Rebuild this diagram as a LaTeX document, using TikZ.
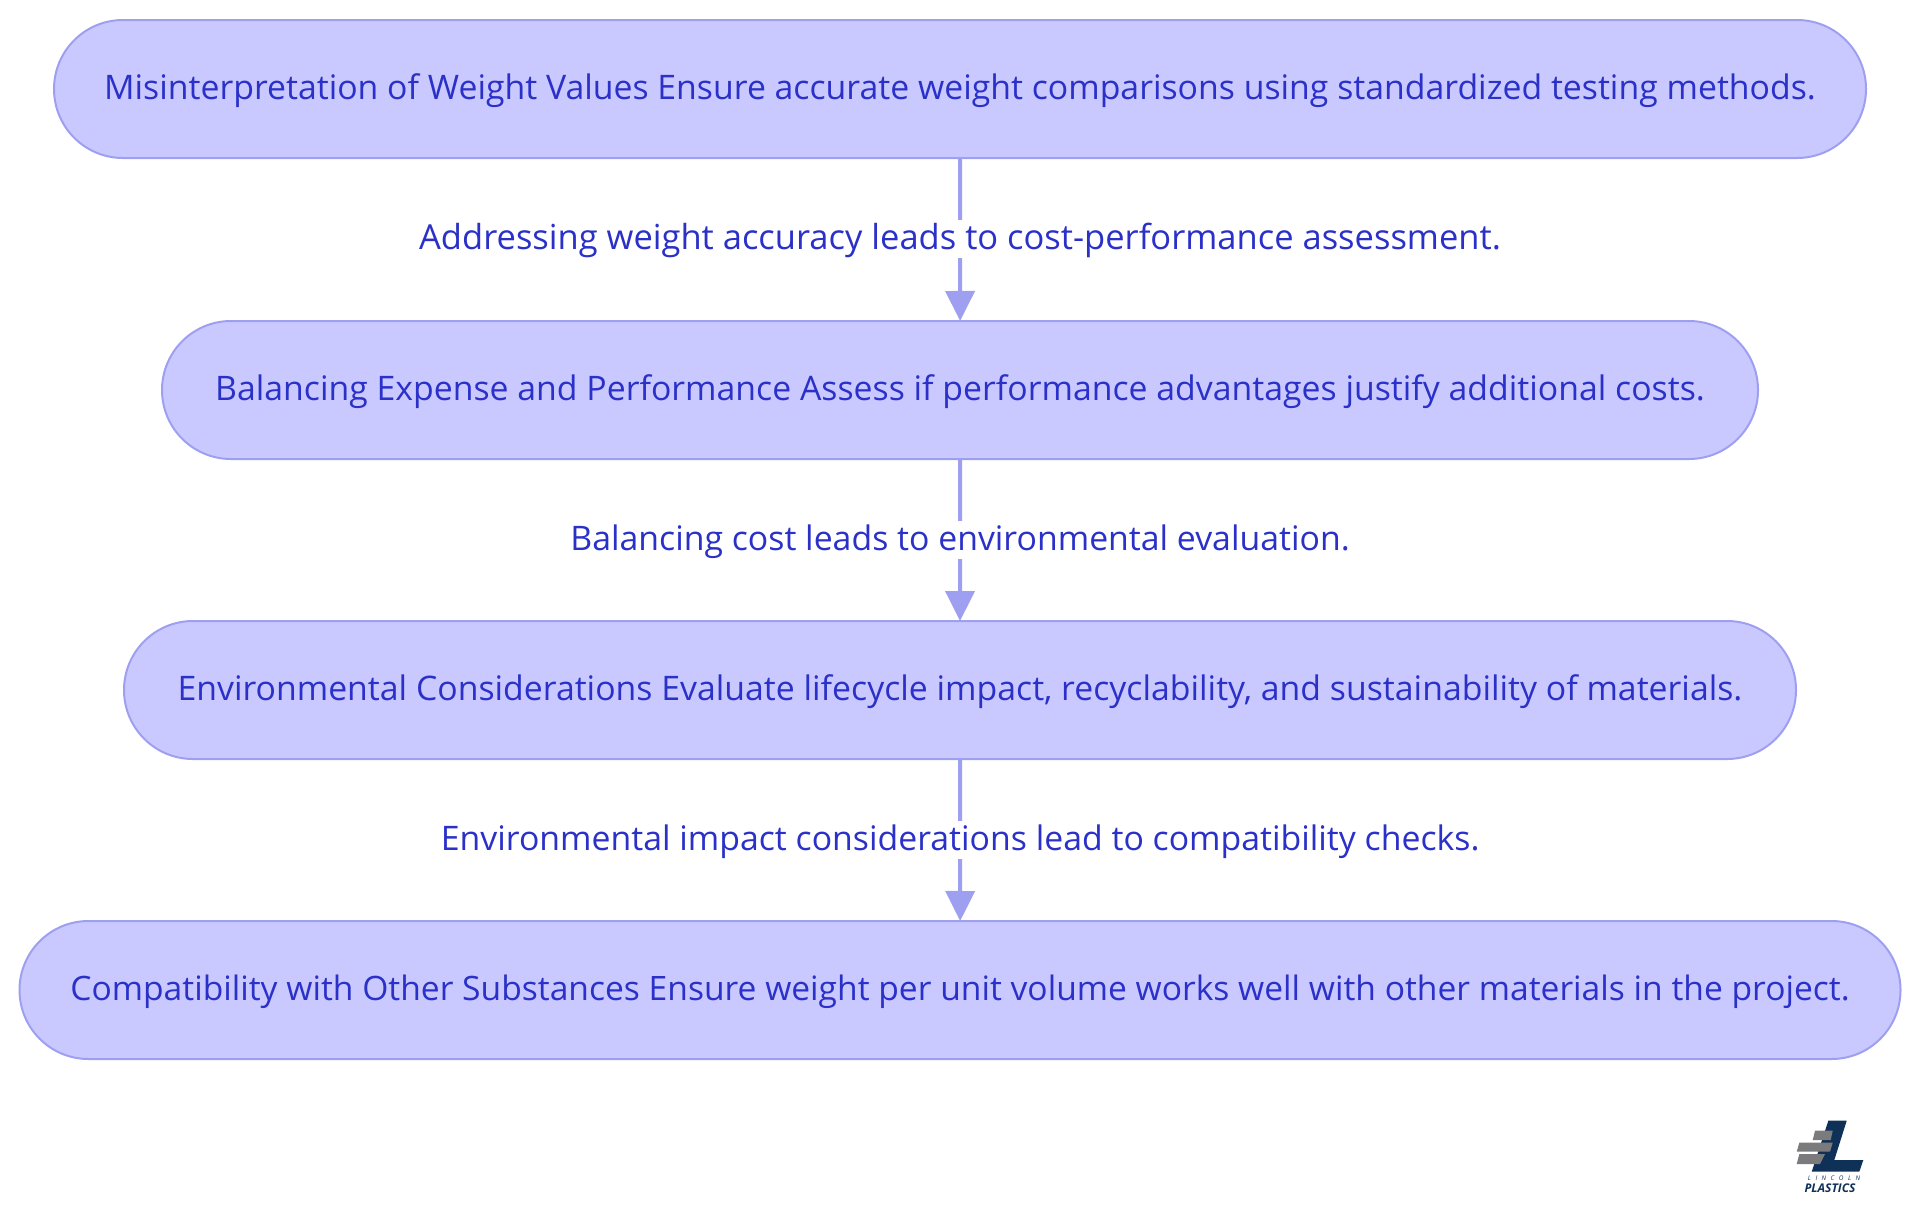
\documentclass[tikz,border=0pt]{standalone}
\usepackage{fontspec}
\setmainfont{Open Sans}
\usetikzlibrary{arrows.meta,shapes.misc}
\definecolor{boxfill}{HTML}{C9C9FF}
\definecolor{boxline}{HTML}{9F9FF2}
\definecolor{lbltext}{HTML}{2A30C8}
\definecolor{logonavy}{HTML}{0F3157}
\definecolor{logogray}{HTML}{7B7B7D}
\tikzset{
  stepbox/.style={rounded rectangle, draw=boxline, fill=boxfill, line width=1pt, minimum height=69pt, inner sep=0pt, outer sep=0pt, text=lbltext, text height=15pt, text depth=5pt, font=\fontsize{16.9}{20}\selectfont},
  flow/.style={-{Triangle[length=15pt,width=14.5pt]}, draw=boxline, line width=2pt},
  edgelbl/.style={fill=white, text=lbltext, inner sep=0pt, text height=14.5pt, text depth=4.5pt, font=\fontsize{16.9}{20}\selectfont},
  brick/.style={fill=logogray, draw=none},
  logotxt/.style={text=logonavy, inner sep=0pt},
}
\begin{document}
\begin{tikzpicture}[x=0.5pt,y=-0.5pt]
  \useasboundingbox (0,0) rectangle (1920,1215);
  \node[stepbox, minimum width=906pt] (weight) at (960,89) {Misinterpretation of Weight Values Ensure accurate weight comparisons using standardized testing methods.};
  \node[stepbox, minimum width=798pt] (expense) at (960,390) {Balancing Expense and Performance Assess if performance advantages justify additional costs.};
  \node[stepbox, minimum width=836pt] (environ) at (960,690) {Environmental Considerations Evaluate lifecycle impact, recyclability, and sustainability of materials.};
  \node[stepbox, minimum width=940.5pt, font=\fontsize{16.8}{20}\selectfont] (compat) at (960,990) {Compatibility with Other Substances Ensure weight per unit volume works well with other materials in the project.};
  \draw[flow] (weight) -- node[edgelbl, font=\fontsize{17.25}{20}\selectfont] (lblcost) {Addressing weight accuracy leads to cost-performance assessment.} (expense);
  \draw[flow] (expense) -- node[edgelbl] (lblenv) {Balancing cost leads to environmental evaluation.} (environ);
  \draw[flow] (environ) -- node[edgelbl] (lblcomp) {Environmental impact considerations lead to compatibility checks.} (compat);
  % logo
  \fill[logonavy] (1828.3,1120.7) -- (1846.7,1120.7) -- (1834.3,1160) -- (1863.3,1160) -- (1859.3,1171.7) -- (1811.7,1171.7) -- cycle;
  \fill[brick] (1815,1130.7) -- (1832.7,1130.7) -- (1830.7,1140) -- (1812.7,1140) -- cycle;
  \fill[brick] (1799.3,1142.7) -- (1832.7,1142.7) -- (1830,1151.7) -- (1796.7,1151.7) -- cycle;
  \fill[brick] (1799.3,1154) -- (1825,1154) -- (1820,1164) -- (1796.7,1164) -- cycle;
  \node[logotxt, font=\fontsize{3.2}{3}\itshape\selectfont\addfontfeature{LetterSpace=70}] (logoname) at (1834,1178) {LINCOLN};
  \node[logotxt, font=\fontsize{6}{6}\bfseries\itshape\selectfont] (logosub) at (1830,1188.5) {PLASTICS};
\end{tikzpicture}
\end{document}
